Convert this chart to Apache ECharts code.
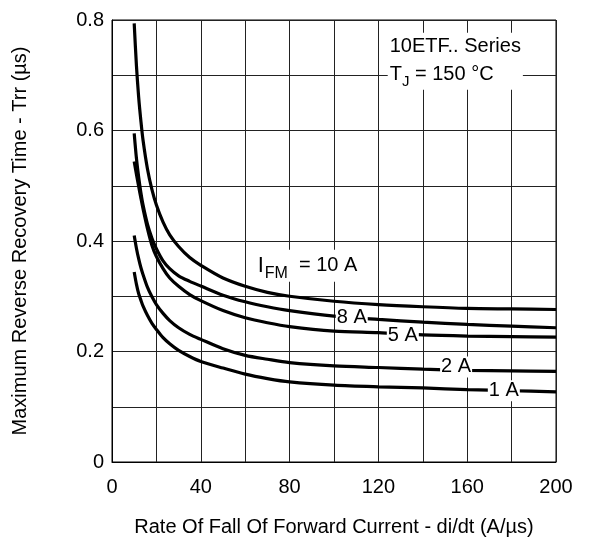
<!DOCTYPE html>
<html>
<head>
<meta charset="utf-8">
<script src="https://cdn.jsdelivr.net/npm/echarts@6/dist/echarts.min.js"></script>
<style>
html,body{margin:0;padding:0;background:#fff;}
#chart{width:591px;height:542px;}
</style>
</head>
<body>
<div id="chart"></div>
<script>
// di/dt values (A/us)
const didt = [10, 11, 12, 13, 14, 16, 18, 20, 23, 26, 30, 35, 40, 50, 60, 70, 80, 100, 120, 140, 160, 180, 200];
// Trr values (us) for each forward current
const trr10A = [0.794, 0.718, 0.661, 0.618, 0.582, 0.53, 0.493, 0.465, 0.434, 0.411, 0.39, 0.37, 0.356, 0.333, 0.318, 0.307, 0.300, 0.291, 0.285, 0.281, 0.278, 0.277, 0.276];
const trr8A  = [0.595, 0.55, 0.516, 0.488, 0.465, 0.43, 0.405, 0.386, 0.364, 0.35, 0.337, 0.327, 0.3185, 0.302, 0.290, 0.281, 0.274, 0.264, 0.258, 0.253, 0.249, 0.246, 0.243];
const trr5A  = [0.544, 0.521, 0.499, 0.478, 0.458, 0.422, 0.392, 0.372, 0.35, 0.333, 0.318, 0.303, 0.292, 0.274, 0.261, 0.252, 0.245, 0.237, 0.234, 0.230, 0.228, 0.227, 0.226];
const trr2A  = [0.41, 0.387, 0.368, 0.352, 0.339, 0.316, 0.299, 0.285, 0.269, 0.256, 0.243, 0.231, 0.222, 0.205, 0.193, 0.186, 0.180, 0.174, 0.171, 0.168, 0.166, 0.165, 0.164];
const trr1A  = [0.344, 0.322, 0.305, 0.293, 0.282, 0.265, 0.251, 0.24, 0.225, 0.214, 0.202, 0.191, 0.182, 0.17, 0.159, 0.151, 0.145, 0.139, 0.136, 0.134, 0.131, 0.129, 0.127];

const seriesNames = ['10 A', '8 A', '5 A', '2 A', '1 A'];
const seriesValues = [trr10A, trr8A, trr5A, trr2A, trr1A];

const xTicks = [0, 40, 80, 120, 160, 200];
const yTicks = [0, 0.2, 0.4, 0.6, 0.8];

const FONT = "'Liberation Sans', Arial, sans-serif";

const chart = echarts.init(document.getElementById('chart'), null, {renderer: 'canvas'});

const lineSeries = seriesValues.map((vals, i) => ({
  name: seriesNames[i],
  type: 'line',
  data: didt.map((x, j) => [x, vals[j]]),
  smooth: 0.3,
  symbol: 'none',
  z: 3,
  lineStyle: {color: '#000', width: 3.2},
  silent: true
}));

function tag(coord, text) {
  return {
    coord: coord,
    symbol: 'rect',
    symbolSize: 0,
    label: {
      show: true,
      position: 'inside',
      formatter: text,
      color: '#000',
      fontFamily: FONT,
      fontSize: 20,
      backgroundColor: '#fff',
      padding: [1, 1, 0, 1]
    }
  };
}

const annotations = {
  type: 'scatter',
  data: [],
  z: 10,
  silent: true,
  markPoint: {
    silent: true,
    animation: false,
    data: [
      tag([108, 0.261], '8 A'),
      tag([131, 0.229], '5 A'),
      tag([155, 0.172], '2 A'),
      tag([176.5, 0.129], '1 A'),
      {
        coord: [65.6, 0.355],
        symbol: 'rect',
        symbolSize: 0,
        label: {
          show: true,
          position: 'inside',
          align: 'left',
          verticalAlign: 'middle',
          formatter: '{a|I}{b|FM}{c|  = 10 A}',
          backgroundColor: '#fff',
          padding: [0, 2, 0, 0],
          rich: {
            a: {fontFamily: FONT, fontSize: 22, color: '#000'},
            b: {fontFamily: FONT, fontSize: 16, color: '#000', padding: [16, 0, 0, 1]},
            c: {fontFamily: FONT, fontSize: 20, color: '#000'}
          }
        }
      },
      {
        coord: [124.2, 0.777],
        symbol: 'rect',
        symbolSize: 0,
        label: {
          show: true,
          position: 'inside',
          align: 'left',
          verticalAlign: 'top',
          formatter: '{t|10ETF.. Series}\n{t|T}{j|J}{t| = 150 °C}',
          backgroundColor: '#fff',
          padding: [0, 2, 1, 2],
          rich: {
            t: {fontFamily: FONT, fontSize: 20, color: '#000', lineHeight: 28},
            j: {fontFamily: FONT, fontSize: 15, color: '#000', lineHeight: 28, padding: [14, 0, 0, 0]}
          }
        }
      }
    ]
  }
};

chart.setOption({
  animation: false,
  backgroundColor: '#fff',
  grid: {left: 112, top: 20, right: 35, bottom: 79, show: true, borderColor: '#000', borderWidth: 1},
  xAxis: {
    type: 'value',
    min: xTicks[0],
    max: xTicks[xTicks.length - 1],
    interval: xTicks[1] - xTicks[0],
    name: 'Rate Of Fall Of Forward Current - di/dt (A/µs)',
    nameLocation: 'middle',
    nameGap: 55,
    nameTextStyle: {fontFamily: FONT, fontSize: 20, color: '#000'},
    axisLine: {show: true, lineStyle: {color: '#000', width: 1}},
    axisTick: {show: false},
    minorTick: {show: false, splitNumber: 2},
    axisLabel: {fontFamily: FONT, fontSize: 20, color: '#000', margin: 15},
    splitLine: {show: true, lineStyle: {color: '#222', width: 1}},
    minorSplitLine: {show: true, lineStyle: {color: '#222', width: 1}}
  },
  yAxis: {
    type: 'value',
    min: yTicks[0],
    max: yTicks[yTicks.length - 1],
    interval: yTicks[1] - yTicks[0],
    name: 'Maximum Reverse Recovery Time - Trr (µs)',
    nameLocation: 'middle',
    nameGap: 82,
    nameTextStyle: {fontFamily: FONT, fontSize: 20, color: '#000'},
    axisLine: {show: true, lineStyle: {color: '#000', width: 1}},
    axisTick: {show: false},
    minorTick: {show: false, splitNumber: 2},
    axisLabel: {fontFamily: FONT, fontSize: 20, color: '#000', margin: 8,
      formatter: v => String(Math.round(v * 10) / 10)},
    splitLine: {show: true, lineStyle: {color: '#222', width: 1}},
    minorSplitLine: {show: true, lineStyle: {color: '#222', width: 1}}
  },
  series: lineSeries.concat([annotations])
});
</script>
</body>
</html>
